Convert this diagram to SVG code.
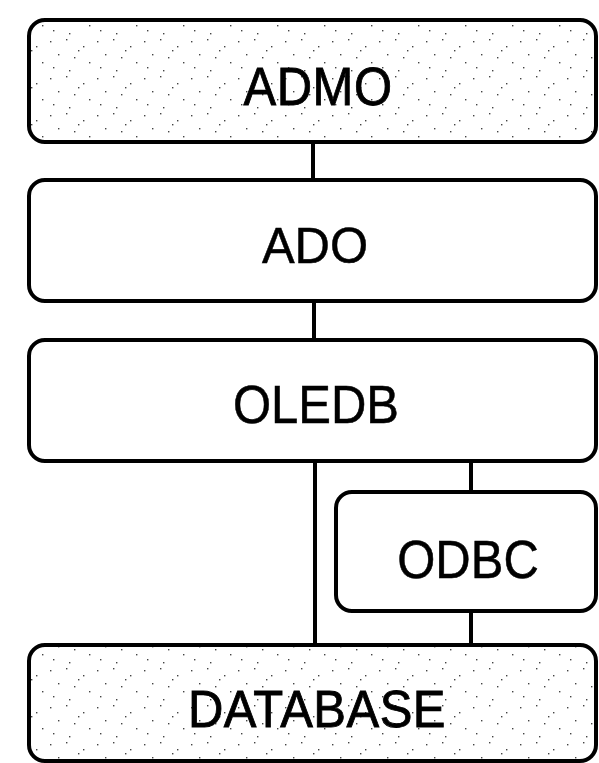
<svg xmlns="http://www.w3.org/2000/svg" width="599" height="763" viewBox="0 0 599 763">
  <defs>
    <!-- sparse speckle used as the shaded fill of the top and bottom layers -->
    <pattern id="speckle" width="47" height="37" patternUnits="userSpaceOnUse">
      <rect width="47" height="37" fill="#ffffff"/>
      <g fill="#444444">
        <rect x="3" y="4" width="1.4" height="1.4"/>
        <rect x="19" y="2" width="1.4" height="1.4"/>
        <rect x="36" y="9" width="1.4" height="1.4"/>
        <rect x="11" y="17" width="1.4" height="1.4"/>
        <rect x="27" y="20" width="1.4" height="1.4"/>
        <rect x="42" y="25" width="1.4" height="1.4"/>
        <rect x="6" y="30" width="1.4" height="1.4"/>
        <rect x="22" y="33" width="1.4" height="1.4"/>
        <rect x="31" y="13" width="1.4" height="1.4"/>
      </g>
    </pattern>
  </defs>
  <style>
    .box { fill: #ffffff; stroke: #000000; stroke-width: 4; }
    .shaded { fill: url(#speckle); }
    .label { font-family: "Liberation Sans", Arial, sans-serif; font-size: 49px; fill: #000000; stroke: #000000; stroke-width: 0.5; text-anchor: middle; }
    .heavy { stroke-width: 0.8; letter-spacing: 0.5px; }
    .wire { stroke: #000000; stroke-width: 4; fill: none; }
  </style>
  <rect width="599" height="763" fill="#ffffff"/>

  <g id="connectors">
    <line class="wire" x1="313" y1="142" x2="313" y2="180"/>
    <line class="wire" x1="314" y1="300" x2="314" y2="340"/>
    <line class="wire" x1="315" y1="460" x2="315" y2="645"/>
    <line class="wire" x1="471" y1="460" x2="471" y2="492"/>
    <line class="wire" x1="471" y1="610" x2="471" y2="645"/>
  </g>

  <g id="admo">
    <rect class="box shaded" x="29" y="20" width="567" height="122" rx="16"/>
    <text class="label heavy" transform="translate(318 105) scale(1 1.1)">ADMO</text>
  </g>

  <g id="ado">
    <rect class="box" x="29" y="180" width="567" height="121" rx="16"/>
    <text class="label" transform="translate(315 263) scale(1 1.03)">ADO</text>
  </g>

  <g id="oledb">
    <rect class="box" x="29" y="340" width="567" height="121" rx="16"/>
    <text class="label" transform="translate(316 423) scale(1 1.08)">OLEDB</text>
  </g>

  <g id="odbc">
    <rect class="box" x="336" y="492" width="260" height="119" rx="16"/>
    <text class="label" transform="translate(468 578) scale(1 1.1)">ODBC</text>
  </g>

  <g id="database">
    <rect class="box shaded" x="29" y="645" width="567" height="116" rx="16"/>
    <text class="label heavy" transform="translate(317 727) scale(1 1.06)">DATABASE</text>
  </g>
</svg>
